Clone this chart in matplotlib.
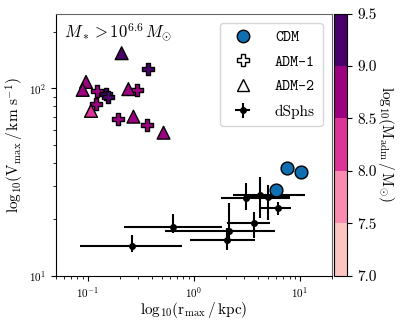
import matplotlib
matplotlib.use("Agg")
import matplotlib.pyplot as plt
import numpy as np
from matplotlib.colors import ListedColormap, BoundaryNorm
from matplotlib.lines import Line2D

plt.rcParams['font.family'] = 'serif'
plt.rcParams['font.serif'] = ['cmr10']
plt.rcParams['mathtext.fontset'] = 'cm'
plt.rcParams['axes.formatter.use_mathtext'] = True

# CDM haloes
cdm_r = [7.5, 10.3, 6.0]
cdm_v = [37.4, 35.7, 28.7]

# ADM-1 haloes
adm1_r = [0.374, 0.123, 0.149, 0.157, 0.290, 0.119, 0.195, 0.361]
adm1_v = [126.8, 97.0, 92.9, 89.5, 97.9, 82.4, 68.5, 63.7]
adm1_m = [9.1, 8.7, 9.05, 9.05, 8.7, 8.7, 8.7, 8.7]

# ADM-2 haloes
adm2_r = [0.209, 0.0964, 0.0897, 0.242, 0.1075, 0.270, 0.519]
adm2_v = [153.8, 108.0, 98.0, 98.9, 75.7, 70.5, 57.9]
adm2_m = [9.3, 8.7, 8.7, 8.7, 8.3, 8.7, 8.7]

# dwarf spheroidals: value, lower, upper
dsph_r = [0.262, 0.640, 2.13, 2.06, 3.71, 3.13, 4.19, 5.03, 6.25]
dsph_r_lo = [0.0846, 0.220, 0.538, 0.927, 2.06, 1.81, 2.36, 3.13, 4.10]
dsph_r_hi = [0.774, 1.847, 5.89, 3.80, 5.28, 8.0, 11.1, 8.0, 8.3]
dsph_v = [14.4, 18.1, 17.3, 15.5, 19.0, 26.1, 26.9, 26.3, 22.9]
dsph_v_lo = [13.4, 16.9, 15.5, 13.7, 15.8, 22.4, 20.3, 19.8, 21.1]
dsph_v_hi = [16.5, 21.3, 24.3, 17.97, 21.9, 31.3, 33.6, 30.5, 24.8]

bounds = [7.0, 7.5, 8.0, 8.5, 9.0, 9.5]
cmap = ListedColormap(['#fcc5c0', '#f98bb0', '#dd3497', '#9c0180', '#49006a'])
norm = BoundaryNorm(bounds, cmap.N)

fig = plt.figure(figsize=(4.07, 3.25), dpi=100)
ax = fig.add_axes([0.137, 0.152, 0.678, 0.806])
cax = fig.add_axes([0.821, 0.152, 0.032, 0.806])

xerr = [np.array(dsph_r) - np.array(dsph_r_lo), np.array(dsph_r_hi) - np.array(dsph_r)]
yerr = [np.array(dsph_v) - np.array(dsph_v_lo), np.array(dsph_v_hi) - np.array(dsph_v)]
eb = ax.errorbar(dsph_r, dsph_v, xerr=xerr, yerr=yerr, fmt='o', color='k',
                 ms=4, elinewidth=1.5, capsize=0, zorder=2)

ax.scatter(cdm_r, cdm_v, s=85, c='#0f6fb0', edgecolors='k', linewidths=1.0, zorder=3)
sc = ax.scatter(adm1_r, adm1_v, s=75, c=adm1_m, cmap=cmap, norm=norm, marker='P',
                edgecolors='k', linewidths=1.0, zorder=3)
ax.scatter(adm2_r, adm2_v, s=85, c=adm2_m, cmap=cmap, norm=norm, marker='^',
           edgecolors='k', linewidths=1.0, zorder=3)

ax.set_xscale('log')
ax.set_yscale('log')
ax.set_xlim(0.05, 20)
ax.set_ylim(10, 250)
ax.tick_params(labelsize=8)
for s in ['top', 'right']:
    ax.spines[s].set_color('0.4')

ax.set_xlabel(r'$\rm log_{10}(r_{max}\,/\,kpc)$', fontsize=11, labelpad=0)
ax.set_ylabel(r'$\rm log_{10}(V_{max}\,/\,km\ s^{-1})$', fontsize=11, labelpad=2)
ax.text(0.03, 0.97, r'$M_* > 10^{6.6}\,M_{\odot}$', transform=ax.transAxes,
        ha='left', va='top', fontsize=12)

handles = [
    Line2D([], [], ls='', marker='o', ms=9, mfc='#0f6fb0', mec='k'),
    Line2D([], [], ls='', marker='P', ms=9, mfc='white', mec='k'),
    Line2D([], [], ls='', marker='^', ms=9, mfc='white', mec='k'),
    eb,
]
leg = ax.legend(handles, ['CDM', 'ADM-1', 'ADM-2', 'dSphs'], loc='upper right',
                fontsize=11, labelspacing=0.65, borderaxespad=0.6,
                handletextpad=1.1, borderpad=0.5)
for t in leg.get_texts()[:3]:
    t.set_fontfamily('cmtt10')

cb = fig.colorbar(sc, cax=cax, ticks=bounds)
cb.ax.set_yticklabels(['%.1f' % b for b in bounds])
cb.ax.tick_params(labelsize=11)
cb.set_label(r'$\rm log_{10}(M_{adm}\,/\,M_{\odot})$', rotation=270, labelpad=14, fontsize=11)

fig.savefig('out.png', dpi=100)
